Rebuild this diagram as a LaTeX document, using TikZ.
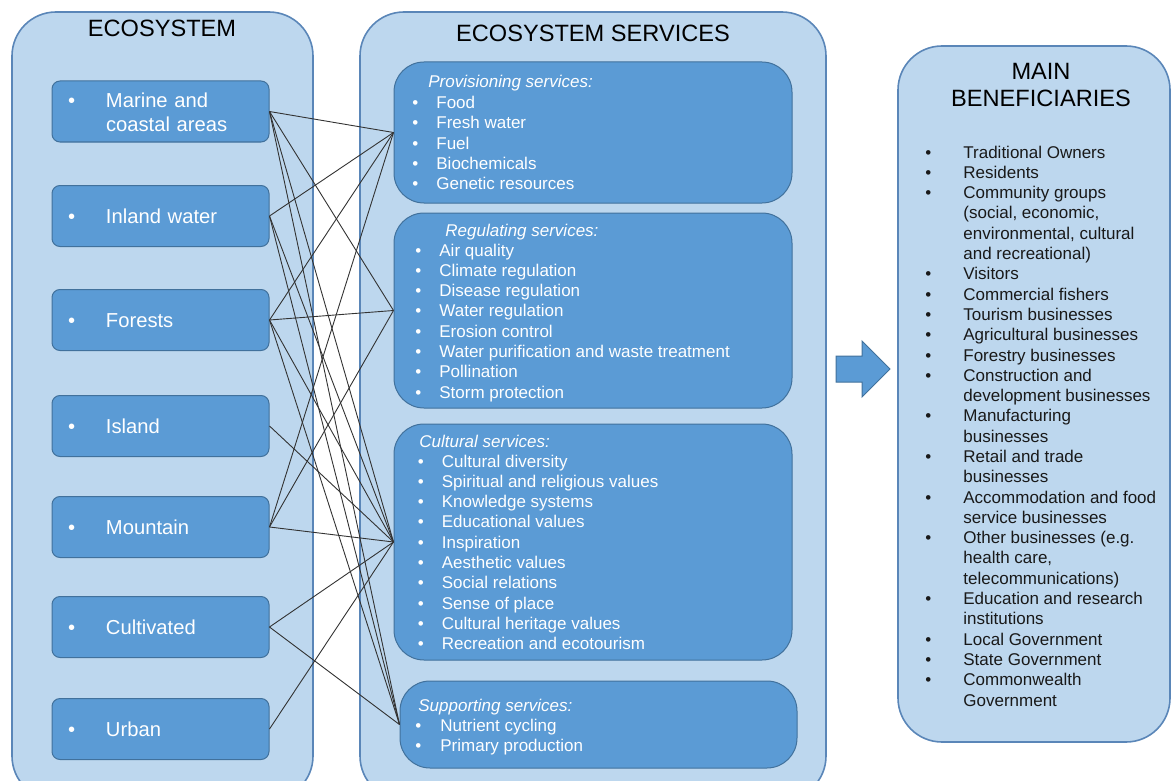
\documentclass[tikz,border=0pt]{standalone}
\usepackage{fontspec}
\setmainfont{Liberation Sans}
\usepackage{array}

\definecolor{boxfill}{HTML}{5B9BD5}
\definecolor{boxline}{HTML}{41719C}
\definecolor{panelfill}{HTML}{BDD7EE}
\definecolor{panelline}{HTML}{5A86B8}
\definecolor{linkcol}{HTML}{333333}

\tikzstyle{panel} = [draw=panelline, line width=0.8pt, fill=panelfill, rounded corners=22pt]
\tikzstyle{ecobox} = [draw=boxline, line width=0.5pt, fill=boxfill, rounded corners=4pt, text=white, font=\fontsize{10.1}{12}\selectfont, minimum height=30.5pt, text width=92.5pt, inner xsep=8pt, inner ysep=0pt, align=left]
\tikzstyle{svcbox} = [draw=boxline, line width=0.5pt, fill=boxfill, rounded corners=15pt, inner sep=0pt]
\tikzstyle{svctext} = [text=white, font=\fontsize{8.5}{10.15}\selectfont, inner sep=0pt, anchor=base west]
\tikzstyle{bentext} = [text=black!90, font=\fontsize{8.5}{10.15}\selectfont, inner sep=0pt, anchor=base west]
\tikzstyle{heading} = [font=\fontsize{11.8}{13}\selectfont, inner sep=0pt, anchor=base]
\tikzstyle{link} = [draw=linkcol, line width=0.45pt]

\newcommand{\ecoitem}[1]{\raisebox{-1.4pt}[\height][\depth]{\begin{tabular}{@{}p{19pt}@{}l@{}}\textbullet & \begin{tabular}[t]{@{}l@{}}#1\end{tabular}\end{tabular}}}
\newcommand{\bitem}[1]{\textbullet & #1\\}
\newcommand{\bcont}[1]{& #1\\}

\begin{document}
\begin{tikzpicture}[x=0.5pt,y=-0.5pt]
            \useasboundingbox (0,0) rectangle (1172,781);
            \clip (0,0) rectangle (1172,781);
            %
            % The three panels
            \draw [panel] (12,12) rectangle (313,800);
            \draw [panel] (360,12) rectangle (826,800);
            \draw [panel] (898,46) rectangle (1170,742);
            \node [heading] (ecohead) at (162,36.5) {ECOSYSTEM};
            \node [heading] (svchead) at (593,41.5) {ECOSYSTEM SERVICES};
            \node [heading] (mainhead) at (1041,80) {MAIN};
            \node [heading] (benhead) at (1041,106) {BENEFICIARIES};
            %
            % Ecosystem blocks
            \node [ecobox] (marine) at (160.5,111.5) {\ecoitem{Marine and\\coastal areas}};
            \node [ecobox] (inland) at (160.5,216) {\ecoitem{Inland water}};
            \node [ecobox] (forests) at (160.5,320) {\ecoitem{Forests}};
            \node [ecobox] (island) at (160.5,426) {\ecoitem{Island}};
            \node [ecobox] (mountain) at (160.5,527) {\ecoitem{Mountain}};
            \node [ecobox] (cultivated) at (160.5,627) {\ecoitem{Cultivated}};
            \node [ecobox] (urban) at (160.5,729) {\ecoitem{Urban}};
            %
            % Service blocks
            \node [svcbox, minimum width=199pt, minimum height=70.5pt] (prov) at (593,132.5) {};
            \node [svcbox, minimum width=199pt, minimum height=97.5pt] (reg) at (593,310.5) {};
            \node [svcbox, minimum width=199pt, minimum height=118pt] (cult) at (593,542) {};
            \node [svcbox, minimum width=198.5pt, minimum height=43.5pt] (supp) at (598.5,724.5) {};
            %
            \node [svctext] (provtitle) at (428,88) {\textit{Provisioning services:}};
            \node [svctext] (provlist) at (412,108.5) {\begin{tabular}[t]{@{}p{12pt}@{}l@{}}
                \bitem{Food}
                \bitem{Fresh water}
                \bitem{Fuel}
                \bitem{Biochemicals}
                \bitem{Genetic resources}
            \end{tabular}};
            \node [svctext] (regtitle) at (445,236) {\textit{Regulating services:}};
            \node [svctext] (reglist) at (415,256) {\begin{tabular}[t]{@{}p{12pt}@{}l@{}}
                \bitem{Air quality}
                \bitem{Climate regulation}
                \bitem{Disease regulation}
                \bitem{Water regulation}
                \bitem{Erosion control}
                \bitem{Water purification and waste treatment}
                \bitem{Pollination}
                \bitem{Storm protection}
            \end{tabular}};
            \node [svctext] (culttitle) at (419,447) {\textit{Cultural services:}};
            \node [svctext] (cultlist) at (417.5,467) {\begin{tabular}[t]{@{}p{12pt}@{}l@{}}
                \bitem{Cultural diversity}
                \bitem{Spiritual and religious values}
                \bitem{Knowledge systems}
                \bitem{Educational values}
                \bitem{Inspiration}
                \bitem{Aesthetic values}
                \bitem{Social relations}
                \bitem{Sense of place}
                \bitem{Cultural heritage values}
                \bitem{Recreation and ecotourism}
            \end{tabular}};
            \node [svctext] (supptitle) at (418,711) {\textit{Supporting services:}};
            \node [svctext] (supplist) at (415,731) {\begin{tabular}[t]{@{}p{12.5pt}@{}l@{}}
                \bitem{Nutrient cycling}
                \bitem{Primary production}
            \end{tabular}};
            %
            % Beneficiaries list
            \node [bentext] (benlist) at (925,158) {\begin{tabular}[t]{@{}p{19pt}@{}l@{}}
                \bitem{Traditional Owners}
                \bitem{Residents}
                \bitem{Community groups}
                \bcont{(social, economic,}
                \bcont{environmental, cultural}
                \bcont{and recreational)}
                \bitem{Visitors}
                \bitem{Commercial fishers}
                \bitem{Tourism businesses}
                \bitem{Agricultural businesses}
                \bitem{Forestry businesses}
                \bitem{Construction and}
                \bcont{development businesses}
                \bitem{Manufacturing}
                \bcont{businesses}
                \bitem{Retail and trade}
                \bcont{businesses}
                \bitem{Accommodation and food}
                \bcont{service businesses}
                \bitem{Other businesses (e.g.}
                \bcont{health care,}
                \bcont{telecommunications)}
                \bitem{Education and research}
                \bcont{institutions}
                \bitem{Local Government}
                \bitem{State Government}
                \bitem{Commonwealth}
                \bcont{Government}
            \end{tabular}};
            %
            % Big arrow towards the beneficiaries
            \draw [draw=boxline, line width=0.5pt, fill=boxfill] (836,356) -- (862,356) -- (862,341) -- (890,369) -- (862,397) -- (862,382) -- (836,382) -- cycle;
            %
            % Links between ecosystems and services
            \draw [link] (marine.east) -- (prov.west);
            \draw [link] (marine.east) -- (reg.west);
            \draw [link] (marine.east) -- (cult.west);
            \draw [link] (marine.east) -- (supp.west);
            \draw [link] (inland.east) -- (prov.west);
            \draw [link] (inland.east) -- (cult.west);
            \draw [link] (inland.east) -- (supp.west);
            \draw [link] (forests.east) -- (prov.west);
            \draw [link] (forests.east) -- (reg.west);
            \draw [link] (forests.east) -- (cult.west);
            \draw [link] (forests.east) -- (supp.west);
            \draw [link] (island.east) -- (cult.west);
            \draw [link] (mountain.east) -- (prov.west);
            \draw [link] (mountain.east) -- (reg.west);
            \draw [link] (mountain.east) -- (cult.west);
            \draw [link] (cultivated.east) -- (cult.west);
            \draw [link] (cultivated.east) -- (supp.west);
            \draw [link] (urban.east) -- (cult.west);
            %
        \end{tikzpicture}
\end{document}
